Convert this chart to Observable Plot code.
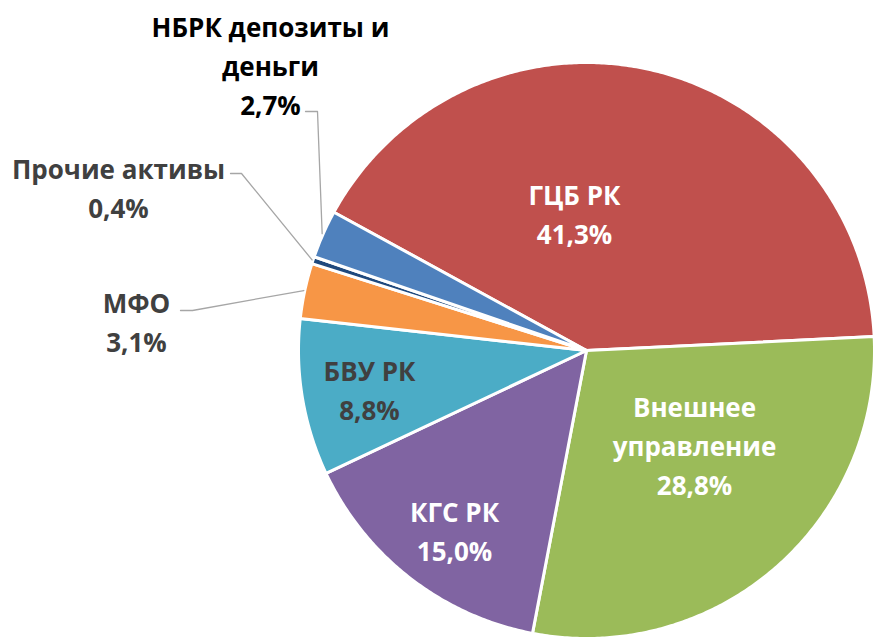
<!DOCTYPE html>
<html>
<head>
<meta charset="utf-8">
<script src="https://cdn.jsdelivr.net/npm/d3@7"></script>
<script src="https://cdn.jsdelivr.net/npm/@observablehq/plot@0.6"></script>
<style>
  html, body { margin: 0; padding: 0; background: #fff; }
  #chart { width: 874px; height: 637px; overflow: hidden; }
</style>
</head>
<body>
<div id="chart"></div>
<script>
// ---- Data (clockwise order, starting at the ГЦБ РК slice) ----
const categories = ["ГЦБ РК", "Внешнее\nуправление", "КГС РК", "БВУ РК", "МФО", "Прочие активы", "НБРК депозиты и\nденьги"];
const values = [41.3, 28.8, 15.0, 8.8, 3.1, 0.4, 2.7];
const valueLabels = ["41,3%", "28,8%", "15,0%", "8,8%", "3,1%", "0,4%", "2,7%"];
const colors = ["#C0504D", "#9BBB59", "#8064A2", "#4BACC6", "#F79646", "#1F497D", "#4F81BD"];
const labelColors = ["#ffffff", "#ffffff", "#ffffff", "#404040", "#404040", "#404040", "#000000"];

// ---- Layout ----
const W = 874, H = 637;
const cx = 586, cy = 350, R = 288;
const startDeg = -61.3;
// label block centres (pixels)
const labelPos = [[574, 212], [694, 443], [454, 529], [369, 388], [136, 320], [118, 186], [270, 63]];
// leader elbow points for outside labels (pixels), by category index
const leaderElbows = {4: [[180, 310], [192, 310]], 5: [[230, 173], [241, 173]], 6: [[305, 111], [317, 111]]};

const pie = d3.pie().sort(null).value(d => d)
  .startAngle(startDeg * Math.PI / 180)
  .endAngle(startDeg * Math.PI / 180 + 2 * Math.PI)(values);

// slice polygons
const slicePts = [];
pie.forEach((a, i) => {
  slicePts.push({k: i, x: 0, y: 0, c: colors[i]});
  const n = Math.max(2, Math.ceil((a.endAngle - a.startAngle) / (0.5 * Math.PI / 180)));
  for (let j = 0; j <= n; j++) {
    const t = a.startAngle + (a.endAngle - a.startAngle) * j / n;
    slicePts.push({k: i, x: R * Math.sin(t), y: -R * Math.cos(t), c: colors[i]});
  }
  slicePts.push({k: i, x: 0, y: 0, c: colors[i]});
});

// leader lines
const leaderPts = [];
Object.entries(leaderElbows).forEach(([i, pts]) => {
  i = +i;
  pts.forEach(([px, py]) => leaderPts.push({k: i, x: px - cx, y: py - cy}));
  const a = (pie[i].startAngle + pie[i].endAngle) / 2;
  leaderPts.push({k: i, x: (R + 1) * Math.sin(a), y: -(R + 1) * Math.cos(a)});
});

const labels = categories.map((c, i) => ({
  text: c + "\n" + valueLabels[i],
  x: labelPos[i][0] - cx,
  y: labelPos[i][1] - cy,
  color: labelColors[i]
}));

const chart = Plot.plot({
  width: W,
  height: H,
  margin: 0,
  x: {domain: [-cx, W - cx], range: [0, W], axis: null},
  y: {domain: [-cy, H - cy], range: [0, H], axis: null},
  color: {type: "identity"},
  style: {background: "#fff"},
  marks: [
    Plot.line(slicePts, {x: "x", y: "y", z: "k", fill: "c", stroke: "#ffffff", strokeWidth: 3, strokeLinejoin: "round"}),
    Plot.line(leaderPts, {x: "x", y: "y", z: "k", stroke: "#a6a6a6", strokeWidth: 1.3}),
    Plot.text(labels, {
      x: "x", y: "y", text: "text", fill: "color",
      fontFamily: "Open Sans", fontWeight: "bold", fontSize: 26,
      lineHeight: 1.5, lineAnchor: "middle", textAnchor: "middle"
    })
  ]
});
document.getElementById("chart").appendChild(chart);
</script>
</body>
</html>
